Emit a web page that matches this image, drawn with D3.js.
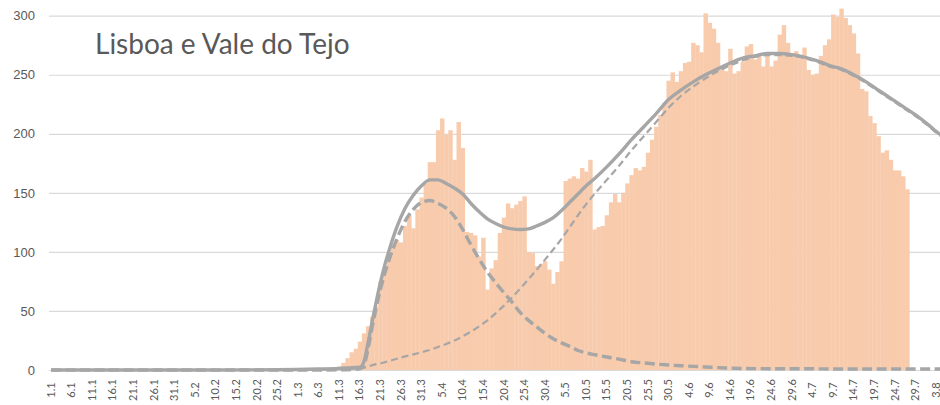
<!DOCTYPE html>
<html>
<head>
<meta charset="utf-8">
<script src="https://cdn.jsdelivr.net/npm/d3@7"></script>
<style>
    body { margin: 0; background: #fff; }
    svg { display: block; font-family: Lato, "Open Sans", sans-serif; }
</style>
</head>
<body>
<div id="chart"></div>
<script>
// daily new cases, one value per day starting 1 January
const cases = [
    0, 0, 0, 0, 0, 0, 0, 0, 0, 0,
    0, 0, 0, 0, 0, 0, 0, 0, 0, 0,
    0, 0, 0, 0, 0, 0, 0, 0, 0, 0,
    0, 0, 0, 0, 0, 0, 0, 0, 0, 0,
    0, 0, 0, 0, 0, 0, 0, 0, 0, 0,
    0, 0, 0, 0, 0, 0, 0, 0, 0, 0,
    0, 0, 0, 1, 0, 1, 1, 2, 1, 2,
    3, 6, 10, 15, 18, 24, 31, 37, 45, 54,
    75, 85, 96, 106, 110, 108, 122, 131, 120, 136,
    146, 158, 176, 176, 203, 213, 199, 203, 178, 210,
    188, 117, 116, 114, 96, 112, 68, 86, 93, 116,
    129, 141, 137, 140, 143, 147, 100, 99, 88, 90,
    92, 85, 73, 83, 92, 160, 162, 164, 162, 171,
    168, 178, 119, 121, 122, 131, 142, 149, 142, 150,
    158, 165, 171, 169, 172, 184, 195, 206, 216, 226,
    245, 252, 244, 253, 260, 261, 277, 275, 269, 302,
    294, 289, 277, 257, 253, 272, 251, 253, 261, 274,
    276, 263, 267, 257, 267, 257, 262, 284, 292, 277,
    266, 270, 264, 273, 254, 250, 251, 266, 275, 280,
    301, 299, 306, 298, 292, 285, 268, 238, 236, 215,
    209, 198, 184, 186, 178, 169, 169, 164, 153
];

// fitted curves, read at these day numbers (0 = 1 January)
const fitDays = [0, 20, 40, 55, 65, 70, 73, 75, 76, 77, 78, 79, 80, 81, 82,
    84, 86, 88, 90, 92, 94, 96, 98, 100, 102, 104, 106, 108, 110, 112, 114, 116, 118,
    120, 122, 124, 126, 128, 130, 132, 135, 138, 141, 144, 147, 150, 153, 156, 159,
    162, 165, 168, 171, 174, 177, 180, 183, 186, 189, 192, 195, 198, 201, 204, 207,
    210, 213, 215, 218];
const fitTotal = [0, 0, 0, 0.2, 0.8, 1.3, 2, 2.4, 7, 23, 41, 58, 74, 88, 100,
    121, 137, 148, 156, 161, 161, 158, 154, 149, 141, 134, 128, 124, 121, 119.5, 119, 119.5, 122,
    125, 129, 135, 142, 149, 156, 162, 172, 183, 195, 206, 217, 229, 237, 244, 250,
    255, 260, 264, 266, 268, 268, 267, 265, 262, 258, 255, 250, 244, 237, 230, 223,
    216, 208, 202, 195];
const fitWave1 = [0, 0, 0, 0, 0, 0.1, 0.4, 1, 4, 18, 36, 53, 68, 81, 92,
    111, 126, 136, 142, 143.5, 141, 137, 130, 119, 106, 94, 83, 74, 65.5, 57.5, 48.5, 42, 36.5,
    31, 26.5, 23, 20, 16.5, 14.5, 13, 11, 9.2, 7, 6, 5, 4.2, 3.6, 3.1, 2.6,
    2, 1.6, 1.3, 1.2, 1.1, 1.1, 1, 1, 1, 0.9, 0.9, 0.9, 0.9, 0.8, 0.8, 0.8,
    0.8, 0.8, 0.8, 0.8];
const fitWave2 = [0, 0, 0, 0.2, 0.5, 0.9, 1.1, 1.3, 2, 3, 4, 5, 5.6, 6.5, 7.5,
    9.5, 11.5, 13.2, 15, 17, 19.5, 22, 25, 28.5, 32.5, 37, 42, 48, 54.5, 61.5, 69, 77, 85,
    93.5, 102, 111, 121, 131, 140.5, 149, 161, 173, 186, 198, 210, 222, 232, 240, 247,
    253, 258, 262, 265, 266.5, 266.5, 266, 264, 261, 257, 254, 249, 243, 236, 229, 222,
    215, 207, 201, 194];

// x labels, one every 5 days
const tickLabels = ["1.1", "6.1", "11.1", "16.1", "21.1", "26.1", "31.1", "5.2", "10.2",
    "15.2", "20.2", "25.2", "1.3", "6.3", "11.3", "16.3", "21.3", "26.3", "31.3", "5.4",
    "10.4", "15.4", "20.4", "25.4", "30.4", "5.5", "10.5", "15.5", "20.5", "25.5", "30.5",
    "4.6", "9.6", "14.6", "19.6", "24.6", "29.6", "4.7", "9.7", "14.7", "19.7", "24.7",
    "29.7", "3.8"];
const yTicks = [0, 50, 100, 150, 200, 250, 300];
const title = "Lisboa e Vale do Tejo";

const width = 940, height = 405;
const dayCount = 219;   // the fits run a little past the right edge
const left = 49, right = 950.5;
const BarColor = '#f8cbad';
const LineColor = '#a6a6a6';
const TextColor = '#595959';

function drawChart() {
    const svg = d3.select("#chart").append("svg")
        .attr("width", width)
        .attr("height", height);

    const x = d3.scaleBand()
        .domain(d3.range(dayCount))
        .range([left, right])
        .padding(0);
    const y = d3.scaleLinear()
        .domain([0, 300])
        .range([370, 15.7]);
    const bw = x.bandwidth();

    // gridlines + y labels
    const yAxis = svg.append("g")
        .attr("transform", `translate(${left},0)`)
        .call(d3.axisLeft(y).tickValues(yTicks).tickSize(-(width - left)).tickPadding(14));
    yAxis.select(".domain").remove();
    yAxis.selectAll("line").attr("stroke", "#d9d9d9").attr("stroke-width", 1.2);
    yAxis.selectAll("text")
        .attr("fill", TextColor)
        .style("font-size", "13px");

    // bars
    svg.append("g").selectAll("rect")
        .data(cases)
        .join("rect")
        .attr("x", (d, i) => x(i))
        .attr("width", bw + 0.3)
        .attr("y", d => y(d))
        .attr("height", d => y(0) - y(d))
        .attr("fill", BarColor);

    // x labels
    svg.append("g").selectAll("text")
        .data(tickLabels)
        .join("text")
        .attr("transform", (d, i) => `translate(${x(i * 5) + bw / 2},390) rotate(-90)`)
        .attr("text-anchor", "middle")
        .attr("dy", "0.33em")
        .attr("fill", TextColor)
        .style("font-size", "11px")
        .text(d => d);

    const line = d3.line()
        .x((d, i) => x(fitDays[i]) + bw / 2)
        .y(d => y(d))
        .curve(d3.curveMonotoneX);

    svg.append("path")
        .datum(fitWave2)
        .attr("d", line)
        .attr("fill", "none")
        .attr("stroke", LineColor)
        .attr("stroke-width", 2.2)
        .attr("stroke-dasharray", "7,4");

    svg.append("path")
        .datum(fitWave1)
        .attr("d", line)
        .attr("fill", "none")
        .attr("stroke", LineColor)
        .attr("stroke-width", 3.4)
        .attr("stroke-dasharray", "10,4.5");

    svg.append("path")
        .datum(fitTotal)
        .attr("d", line)
        .attr("fill", "none")
        .attr("stroke", LineColor)
        .attr("stroke-width", 3.4)
        .attr("stroke-linejoin", "round");

    // title
    svg.append("text")
        .attr("x", 95)
        .attr("y", 54)
        .attr("fill", TextColor)
        .style("font-size", "28px")
        .text(title);
}

drawChart();
</script>
</body>
</html>
